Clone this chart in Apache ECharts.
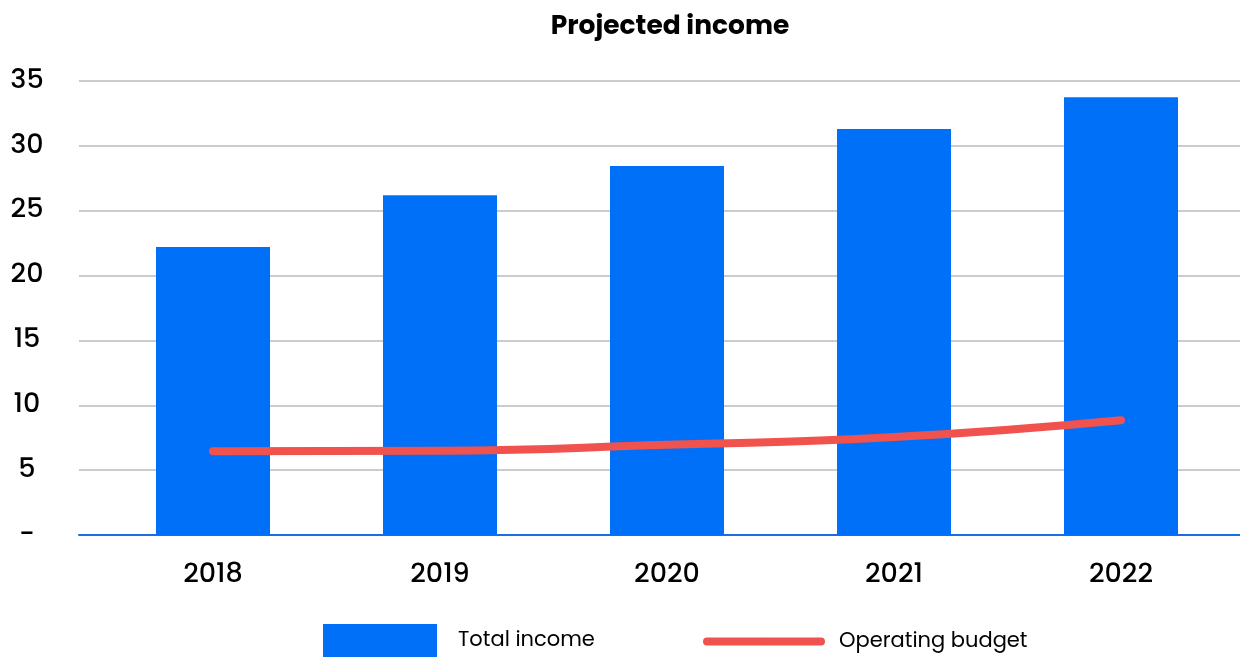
<!DOCTYPE html>
<html><head><meta charset="utf-8">
<script src="https://cdn.jsdelivr.net/npm/echarts@6/dist/echarts.min.js"></script>
<style>html,body{margin:0;padding:0;background:#fff}#c{width:1240px;height:657px}</style>
</head><body><div id="c"></div>
<script>
const categories = ['2018','2019','2020','2021','2022'];
const totalIncome = [22.2, 26.2, 28.45, 31.3, 33.75];
const operatingBudget = [6.45, 6.5, 6.95, 7.55, 8.85];
const yTicks = {min: 0, max: 35, interval: 5};

const FONT = 'Poppins, Inter, Lato, "Noto Sans", sans-serif';
const RED = '#f0524d';
const chart = echarts.init(document.getElementById('c'));
chart.setOption({
  animation: false,
  title: {text: 'Projected income', left: 665, top: 9, textAlign: 'center',
    textStyle: {fontFamily: FONT, fontWeight: 'bold', fontSize: 26.5, color: '#000'}},
  legend: [
    {left: 323, top: 624, padding: 0, itemWidth: 114, itemHeight: 33, icon: 'rect',
     textStyle: {fontFamily: FONT, fontSize: 21, color: '#000', padding: [11,0,0,16]},
     data: ['Total income']},
    {left: 703, top: 631, padding: 0, itemWidth: 114, itemHeight: 8,
     lineStyle: {width: 8, cap: 'round', color: RED},
     itemStyle: {color: RED},
     textStyle: {fontFamily: FONT, fontSize: 21, color: '#000', padding: [8,0,0,13]},
     data: ['Operating budget']}
  ],
  grid: [
    {left: 79, right: 0, top: 81, bottom: 122},
    {left: 99.5, right: 5.5, top: 81, bottom: 122}
  ],
  xAxis: [
    {gridIndex: 0, type: 'value', min: 0, max: 1, show: true,
     axisLine: {show: true, lineStyle: {color: '#1a6ee0', width: 2}},
     axisTick: {show: false}, axisLabel: {show: false}, splitLine: {show: false}},
    {gridIndex: 1, type: 'category', data: categories,
     axisLine: {show: false}, axisTick: {show: false},
     axisLabel: {margin: 27, fontFamily: FONT, fontSize: 27, fontWeight: 500, color: '#000'}}
  ],
  yAxis: [
    {gridIndex: 0, type: 'value', min: yTicks.min, max: yTicks.max, interval: yTicks.interval,
     axisLine: {show: false}, axisTick: {show: false},
     axisLabel: {margin: 52, align: 'center', fontFamily: FONT, fontSize: 27, fontWeight: 500, color: '#000',
       formatter: v => v === 0 ? '-' : String(v)},
     splitLine: {lineStyle: {color: '#cccccc', width: 2}}},
    {gridIndex: 1, type: 'value', min: yTicks.min, max: yTicks.max, interval: yTicks.interval,
     show: false, splitLine: {show: false}}
  ],
  series: [
    {name: 'Total income', type: 'bar', xAxisIndex: 1, yAxisIndex: 1, data: totalIncome,
     barWidth: 114, itemStyle: {color: '#0070f9'}, z: 2},
    {name: 'Operating budget', type: 'line', xAxisIndex: 1, yAxisIndex: 1, data: operatingBudget,
     smooth: true, symbol: 'none', lineStyle: {color: RED, width: 8, cap: 'round'},
     itemStyle: {color: RED}, z: 3}
  ]
});
</script></body></html>
